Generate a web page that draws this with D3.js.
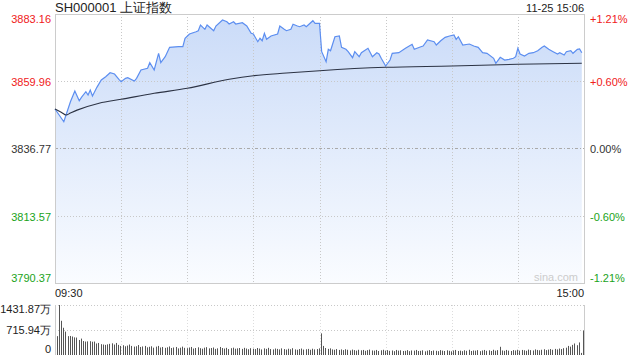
<!DOCTYPE html>
<html><head><meta charset="utf-8">
<script src="https://cdn.jsdelivr.net/npm/d3@7/dist/d3.min.js"></script>
<style>body{margin:0;background:#fff}svg{display:block}text{font-family:"Liberation Sans",Arial,sans-serif}</style>
</head><body><svg id="c" width="640" height="360"></svg>
<script>
const title = "SH000001 上证指数";
const stamp = "11-25 15:06";
const prevClose = 3836.77;
const priceTicks = [3883.16, 3859.96, 3836.77, 3813.57, 3790.37];
const pctTicks = ["+1.21%", "+0.60%", "0.00%", "-0.60%", "-1.21%"];
const volTicks = [1431.87, 715.94, 0];
const volTickLabels = ["1431.87万", "715.94万", "0"];
const timeLabels = ["09:30", "15:00"];
// minutes since open (trading minutes, 0..240) and price
const priceMin = [0,4,5,7,9,11,12,14,15,16,17,19,21,23,25,27,29,30,32,33,36,37,39,42,43,45,47,48,50,52,56,58,59,61,64,65,66,68,69,72,73,76,78,79,81,82,85,87,89,90,92,93,94,95,96,98,101,102,104,105,107,108,110,111,113,114,117,118,120,121,123,124,125,127,129,130,132,133,135,136,138,139,142,144,146,147,148,150,152,153,156,159,162,163,166,167,169,172,173,175,177,179,181,182,183,185,188,190,192,194,196,199,200,202,204,206,208,209,210,211,213,215,217,219,221,222,224,226,228,229,231,232,234,235,237,238,239];
const priceVal = [3850.38,3846.00,3848.31,3852.90,3856.59,3853.25,3854.42,3856.35,3855.21,3856.94,3854.87,3857.87,3860.39,3861.53,3862.91,3862.46,3860.63,3859.80,3860.98,3861.18,3860.04,3860.98,3863.84,3864.43,3866.36,3863.84,3869.60,3866.36,3868.43,3871.67,3871.88,3871.88,3874.78,3876.26,3877.05,3877.40,3879.36,3877.88,3879.36,3877.40,3879.02,3881.09,3880.50,3879.71,3880.50,3879.71,3880.16,3879.02,3876.50,3876.26,3873.60,3874.78,3873.95,3876.50,3874.43,3875.57,3876.26,3879.02,3877.88,3877.40,3877.88,3879.61,3879.02,3878.78,3879.36,3878.78,3880.85,3879.95,3879.95,3870.16,3866.71,3870.98,3870.50,3875.33,3875.57,3871.67,3870.98,3870.16,3868.08,3870.16,3868.43,3869.81,3871.33,3868.43,3869.81,3869.36,3867.88,3865.22,3867.29,3869.60,3869.81,3871.33,3872.71,3870.98,3871.88,3872.12,3874.19,3873.60,3872.46,3873.95,3875.12,3875.57,3875.91,3874.43,3875.33,3872.46,3872.81,3872.12,3871.67,3869.81,3869.60,3867.88,3866.15,3868.22,3867.29,3867.53,3867.88,3868.43,3871.33,3869.36,3868.67,3869.60,3869.81,3870.50,3871.67,3872.12,3870.98,3870.16,3869.36,3869.81,3869.02,3870.16,3870.50,3869.60,3870.98,3871.09,3869.81];
const avgMin = [0,3,5,7,10,20,30,45,60,79,90,105,120,150,180,210,239];
const avgVal = [3850.38,3849.2,3848.31,3849.0,3850.0,3852.4,3853.73,3855.8,3857.53,3860.63,3861.88,3862.8,3863.60,3864.77,3865.22,3865.81,3866.15];
// volume per minute, 万
const volume = [540,1431.87,980,780,670,540,545,530,505,500,
430,470,400,385,390,395,380,385,330,345,
310,300,290,305,320,335,300,345,290,260,
280,250,270,300,260,240,250,285,230,245,
260,220,235,250,210,240,260,215,230,205,
220,245,200,215,230,190,210,240,205,195,
215,230,185,200,220,195,180,210,225,190,
200,215,175,190,230,200,185,205,170,195,
210,180,190,200,175,205,185,165,195,180,
170,200,185,160,190,175,205,170,160,185,
175,160,190,170,155,180,165,195,160,150,
170,185,155,165,175,150,180,160,170,190,
620,260,200,175,190,160,150,170,145,160,
140,165,150,130,155,140,125,150,135,145,
120,140,155,130,125,145,115,135,150,125,
140,120,130,110,145,125,135,115,120,140,
110,130,125,145,115,120,135,105,125,140,
115,130,120,110,140,125,115,135,120,105,
130,145,115,125,110,135,120,150,115,130,
125,140,110,130,145,120,135,115,150,125,
140,235,130,120,145,125,115,140,130,150,
125,145,135,120,155,140,130,160,145,135,
150,165,140,155,170,150,175,160,185,170,
195,210,260,240,290,330,280,360,60,700];

const svg = d3.select("#c");
const L = 55, R = 584, T = 14, B = 283;
const x = d3.scaleLinear().domain([0,240]).range([L,R]);
const y = d3.scaleLinear().domain([priceTicks[4], priceTicks[0]]).range([B,T]);
const vy = d3.scaleLinear().domain([0, volTicks[0]]).range([355,305]);

const defs = svg.append("defs");
const g = defs.append("linearGradient").attr("id","fill").attr("gradientUnits","userSpaceOnUse")
  .attr("x1",0).attr("y1",T).attr("x2",0).attr("y2",B);
g.append("stop").attr("offset","0").attr("stop-color","#cadbf8");
g.append("stop").attr("offset","1").attr("stop-color","#fafcff");

const pts = priceMin.map((m,i)=>({m, v:priceVal[i]}));
svg.append("path").datum(pts)
  .attr("d", d3.area().x(d=>x(d.m)).y0(B).y1(d=>y(d.v)))
  .attr("fill","url(#fill)");

// grid
const colors = ["#f0201a","#f0201a","#333","#1aa31a","#1aa31a"];
priceTicks.slice(1,4).forEach((t,i)=>{
  svg.append("line").attr("x1",L).attr("x2",R).attr("y1",Math.round(y(t))+0.5).attr("y2",Math.round(y(t))+0.5)
    .attr("stroke", t===prevClose ? "#aaa" : "#c8c8c8")
    .attr("stroke-dasharray", t===prevClose ? "3,2,1,2" : "1,2");
});
d3.range(30,240,30).forEach(m=>{
  svg.append("line").attr("x1",Math.round(x(m))+0.5).attr("x2",Math.round(x(m))+0.5).attr("y1",T).attr("y2",B)
    .attr("stroke","#c8c8c8").attr("stroke-dasharray","1,2");
  svg.append("line").attr("x1",Math.round(x(m))+0.5).attr("x2",Math.round(x(m))+0.5).attr("y1",305).attr("y2",355)
    .attr("stroke","#ddd").attr("stroke-dasharray","1,2");
});
svg.append("rect").attr("x",L+0.5).attr("y",T+0.5).attr("width",R-L).attr("height",B-T)
  .attr("fill","none").attr("stroke","#ccc");

svg.append("path").datum(pts)
  .attr("d", d3.line().x(d=>x(d.m)).y(d=>y(d.v)))
  .attr("fill","none").attr("stroke","#5c8ef0").attr("stroke-width",1.2);
const apts = avgMin.map((m,i)=>({m, v:avgVal[i]}));
svg.append("path").datum(apts)
  .attr("d", d3.line().curve(d3.curveMonotoneX).x(d=>x(d.m)).y(d=>y(d.v)))
  .attr("fill","none").attr("stroke","#2c3344").attr("stroke-width",1.1);

// labels
const labY = [19, 82, 149, 217, 278];
priceTicks.forEach((t,i)=>{
  svg.append("text").attr("x",51).attr("y",labY[i]+4).attr("text-anchor","end")
    .attr("font-size",11).attr("fill",colors[i]).text(t.toFixed(2));
  svg.append("text").attr("x",590).attr("y",labY[i]+4).attr("text-anchor","start")
    .attr("font-size",11).attr("fill",colors[i]).text(pctTicks[i]);
});
svg.append("text").attr("x",55).attr("y",12).attr("font-size",13).attr("fill","#222").text(title);
svg.append("text").attr("x",584).attr("y",12).attr("text-anchor","end").attr("font-size",11).attr("fill","#222").text(stamp);
svg.append("text").attr("x",578).attr("y",281).attr("text-anchor","end").attr("font-size",11).attr("fill","#ccc").text("sina.com");
svg.append("text").attr("x",55).attr("y",297).attr("font-size",11).attr("fill","#222").text(timeLabels[0]);
svg.append("text").attr("x",584).attr("y",297).attr("text-anchor","end").attr("font-size",11).attr("fill","#222").text(timeLabels[1]);

// volume panel
volTicks.slice(0,2).forEach(t=>{
  svg.append("line").attr("x1",L).attr("x2",R).attr("y1",Math.round(vy(t))+0.5).attr("y2",Math.round(vy(t))+0.5)
    .attr("stroke","#c8c8c8").attr("stroke-dasharray","1,2");
});
svg.append("line").attr("x1",L+0.5).attr("x2",L+0.5).attr("y1",305).attr("y2",355).attr("stroke","#ccc");
svg.append("line").attr("x1",R+0.5).attr("x2",R+0.5).attr("y1",305).attr("y2",355).attr("stroke","#ccc");
const vlabY = [309, 330, 349];
volTickLabels.forEach((s,i)=>{
  svg.append("text").attr("x",51).attr("y",vlabY[i]+4).attr("text-anchor","end")
    .attr("font-size",11).attr("fill","#222").text(s);
});
svg.append("g").selectAll("rect").data(volume).join("rect")
  .attr("x",(d,i)=>Math.round(x(i)+1.5)).attr("width",1)
  .attr("y",d=>vy(d)).attr("height",d=>vy(0)-vy(d))
  .attr("fill","#555");
</script></body></html>
